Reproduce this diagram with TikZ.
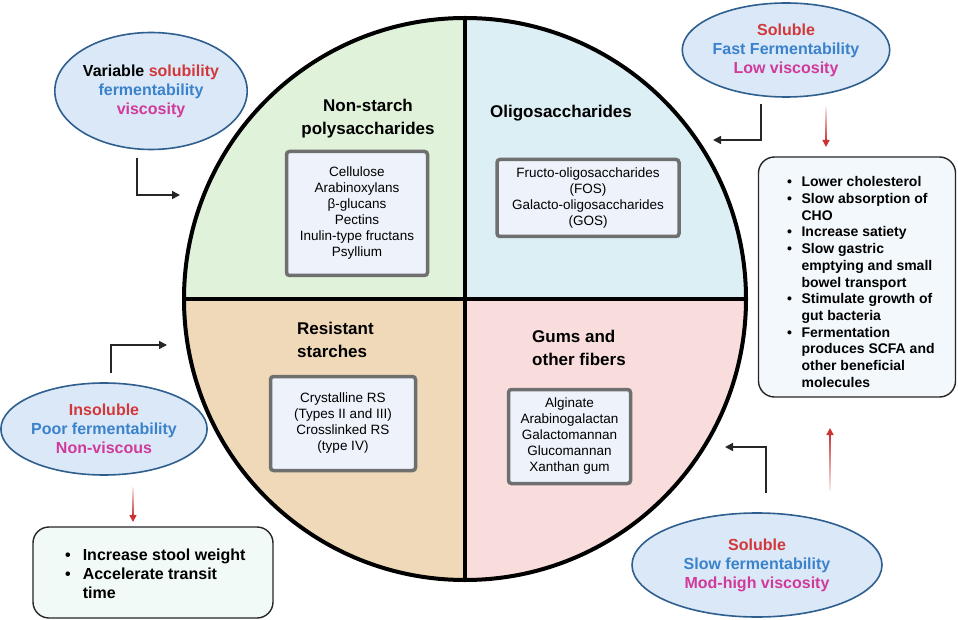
\documentclass[tikz,border=0pt]{standalone}
\usepackage{fontspec}
\setmainfont{Liberation Sans}
\usetikzlibrary{shapes.geometric,arrows.meta}
\definecolor{qgreen}{HTML}{E1F2DA}
\definecolor{qblue}{HTML}{DCEFF5}
\definecolor{qtan}{HTML}{EFD9B8}
\definecolor{qpink}{HTML}{F8DDDC}
\definecolor{boxfill}{HTML}{EDF2FB}
\definecolor{boxedge}{HTML}{6F6F6F}
\definecolor{ellfill}{HTML}{DAE8F7}
\definecolor{elledge}{HTML}{2F5F8F}
\definecolor{tred}{HTML}{D2383A}
\definecolor{tblue}{HTML}{3B82CC}
\definecolor{tmag}{HTML}{D13A9B}
\definecolor{arred}{HTML}{CC3333}
\definecolor{rfill}{HTML}{F3F8FC}
\definecolor{gfill}{HTML}{F1FAF7}
\begin{document}
\begin{tikzpicture}[x=1pt,y=-1pt,
 ell/.style={ellipse, draw=elledge, line width=1.6pt, fill=ellfill, inner sep=0pt, align=center, font=\fontsize{16}{19}\selectfont\bfseries},
 listbox/.style={draw=boxedge, line width=3.5pt, fill=boxfill, rounded corners=3pt, align=center, inner sep=0pt, font=\fontsize{13.5}{16}\selectfont},
 title/.style={font=\fontsize{17}{23}\selectfont\bfseries, inner sep=0pt},
 elbow/.style={line width=1.6pt, black!85, -{Triangle[length=8pt,width=8pt]}},
 redhead/.style={line width=1.4pt, arred, -{Triangle[length=7pt,width=7pt]}},
 roundbox/.style={draw=black!85, line width=1.4pt, rounded corners=16pt, inner sep=0pt},
]
\fill[white] (0,0) rectangle (958,620);
\useasboundingbox (0,0) rectangle (958,620);

% quadrants
\begin{scope}
\clip (465,299) circle[radius=281pt];
\fill[qgreen] (180,15) rectangle (465,299);
\fill[qblue] (465,15) rectangle (750,299);
\fill[qtan] (180,299) rectangle (465,585);
\fill[qpink] (465,299) rectangle (750,585);
\end{scope}
\draw[line width=4pt] (465,18) -- (465,580);
\draw[line width=4pt] (184,299) -- (746,299);
\draw[line width=4pt] (465,299) circle[radius=281pt];

% titles
\node[title, align=center] (t1) at (368,119) {Non-starch\\polysaccharides};
\node[title] (t2) at (561,113) {Oligosaccharides};
\node[title, align=left, anchor=west] (t3) at (297,340) {Resistant\\starches};
\node[title, align=left, anchor=west] (t4) at (532,348) {Gums and\\other fibers};

% lists
\node[listbox, minimum width=141, minimum height=124] (b1) at (357,213.5)
 {Cellulose\\Arabinoxylans\\β-glucans\\Pectins\\Inulin-type fructans\\Psyllium};
\node[listbox, minimum width=182, minimum height=77] (b2) at (588,198)
 {Fructo-oligosaccharides\\(FOS)\\Galacto-oligosaccharides\\(GOS)};
\node[listbox, minimum width=145, minimum height=94] (b3) at (343,423.5)
 {Crystalline RS\\(Types II and III)\\Crosslinked RS\\(type IV)};
\node[listbox, minimum width=122, minimum height=94] (b4) at (569.5,436.5)
 {Alginate\\Arabinogalactan\\Galactomannan\\Glucomannan\\Xanthan gum};

% ellipses
\node[ell, minimum width=168, minimum height=117] (e1) at (151,91)
 {Variable {\color{tred}solubility}\\{\color{tblue}fermentability}\\{\color{tmag}viscosity}};
\node[ell, minimum width=167, minimum height=94] (e2) at (786,50)
 {{\color{tred}Soluble}\\{\color{tblue}Fast Fermentability}\\{\color{tmag}Low viscosity}};
\node[ell, minimum width=188, minimum height=92] (e3) at (104,429)
 {{\color{tred}Insoluble}\\{\color{tblue}Poor fermentability}\\{\color{tmag}Non-viscous}};
\node[ell, minimum width=250, minimum height=104] (e4) at (757,565)
 {{\color{tred}Soluble}\\{\color{tblue}Slow fermentability}\\{\color{tmag}Mod-high viscosity}};

% effect boxes
\node[roundbox, fill=rfill, minimum width=197, minimum height=240] (rbox) at (857,277) {};
\node[anchor=north west, inner sep=0pt, font=\fontsize{14}{16.7}\selectfont\bfseries] (rtext) at (787,175)
 {\begin{tabular}{@{}l@{\hspace{9.5pt}}l@{}}
 • & Lower cholesterol\\
 • & Slow absorption of\\
   & CHO\\
 • & Increase satiety\\
 • & Slow gastric\\
   & emptying and small\\
   & bowel transport\\
 • & Stimulate growth of\\
   & gut bacteria\\
 • & Fermentation\\
   & produces SCFA and\\
   & other beneficial\\
   & molecules
 \end{tabular}};
\node[roundbox, fill=gfill, minimum width=240, minimum height=91] (lbox) at (153,572.5) {};
\node[anchor=north west, inner sep=0pt, font=\fontsize{16}{19}\selectfont\bfseries] (ltext) at (65,547)
 {\begin{tabular}{@{}l@{\hspace{12pt}}l@{}}
 • & Increase stool weight\\
 • & Accelerate transit\\
   & time
 \end{tabular}};

% connectors
\coordinate (a1s) at (137,158); \coordinate (a1e) at (180,195);
\draw[elbow] (a1s) |- (a1e);
\coordinate (a2s) at (761,104); \coordinate (a2e) at (713,140);
\draw[elbow] (a2s) |- (a2e);
\coordinate (a3s) at (111,373); \coordinate (a3e) at (167,345);
\draw[elbow] (a3s) |- (a3e);
\coordinate (a4s) at (766,493); \coordinate (a4e) at (725,447);
\draw[elbow] (a4s) |- (a4e);

% red arrows with faded tails
\shade[top color=arred!10, bottom color=arred] (825.3,107) rectangle (826.7,141);
\coordinate (r1s) at (826,139); \coordinate (r1e) at (826,147);
\draw[redhead] (r1s) -- (r1e);
\shade[top color=arred!10, bottom color=arred] (132.3,487) rectangle (133.7,516);
\coordinate (r2s) at (133,514); \coordinate (r2e) at (133,522);
\draw[redhead] (r2s) -- (r2e);
\shade[top color=arred, bottom color=arred!10] (829.3,434) rectangle (830.7,490);
\coordinate (r3s) at (830,436); \coordinate (r3e) at (830,428);
\draw[redhead] (r3s) -- (r3e);
\end{tikzpicture}
\end{document}
